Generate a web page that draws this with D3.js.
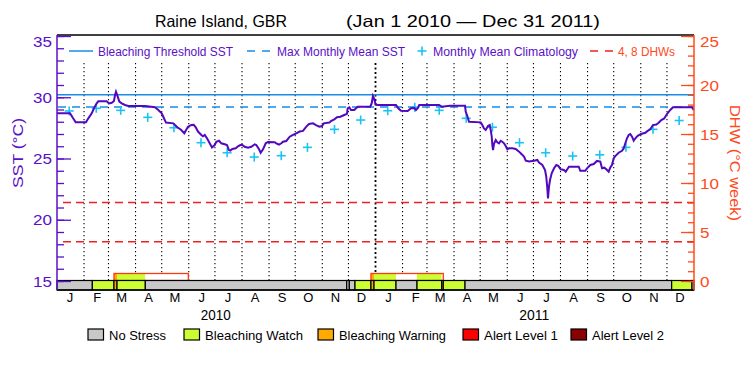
<!DOCTYPE html>
<html><head><meta charset="utf-8">
<script src="https://cdn.jsdelivr.net/npm/d3@7"></script>
<style>body{margin:0;background:#fff}svg{display:block}text{font-family:"Liberation Sans",Arial,sans-serif}</style>
</head><body>
<script>
// ---------- DATA ----------
// Daily SST, day offset from 2010-01-01
const sstDay = [0,14.9,18.3,21.4,33.2,35.9,39.8,42.4,45.5,47.3,
57,59.6,62.7,65.3,66.5,67.6,69.6,71.4,74.1,77.9,
81.7,100.8,112.3,116.1,120,121.8,124.9,133.3,135.8,137.9,
142.1,145.9,147.8,150.1,153.9,156.7,159,161.6,165.4,167.3,
169.3,171.9,175,177.6,180.7,182.6,185.7,188.3,192.2,194.8,
197.1,198.6,200.9,204.8,207.4,210.1,212.4,215.1,218.9,222.7,
226.6,228.4,231.5,233.4,236.1,239.2,241.8,249.5,251.3,254.4,
257.1,259,262.8,264.7,266.7,270.5,274.2,278.1,281.9,285.7,
288.8,293.4,296.8,300.6,303.7,305.7,312.1,314,317.8,320.9,
324.7,329.2,332.3,333.1,335,336.9,340.7,342.7,344.6,359,
360.6,362.1,363.6,364.8,366.7,388.5,391.1,394.2,401.9,405.7,
409.5,411.4,413.4,415.2,437.8,440.9,450.4,467.6,468.4,470.2,
472.2,485.6,487.4,489.3,491.3,493.9,495.9,497,498.2,498.9,
499.7,500.8,502.8,504.6,506.5,508.5,510.3,512.3,514.2,516.1,
518,521.8,525.7,529.5,531.4,535.2,537.2,541,546.7,550.5,
552.4,556.2,559.3,560.7,561.9,562.7,563.8,565,566.9,569.6,
572.2,574.5,577.2,581,583,584.8,586.7,597.9,599.7,605.4,
607.4,611.2,615.1,618.8,622.6,624.6,627.2,629.5,632.2,634.1,
636,637.9,639.8,643.6,647.5,649.4,651.3,653.2,655.2,657,
659,660.9,662.8,665.5,669.3,674.2,676.9,679.9,683,686.8,
689.5,692.5,695.9,699,702.8,705.9,727.7,729.6];
const sstValue = [28.7,28.7,28.3,27.96,27.96,28.28,28.69,29.1,29.5,29.67,
29.67,29.5,29.55,29.7,30.18,30.45,30.05,29.64,29.5,29.37,
29.29,29.29,29.18,28.96,28.69,28.41,27.93,27.87,27.7,27.55,
27.35,27.06,27.3,27.6,27.73,27.75,27.55,27.2,26.92,26.82,
26.92,26.65,26.24,25.9,26.1,26.37,26.45,26.24,26.16,26.1,
25.69,25.64,25.78,25.83,26.0,26.1,26.1,25.96,25.88,25.96,
26.16,26.1,25.75,25.47,25.75,26.24,26.35,26.33,26.24,26.13,
26.24,26.37,26.43,26.6,26.78,26.92,27.06,27.2,27.25,27.6,
27.82,27.87,27.73,27.6,27.65,27.87,27.93,28.06,28.2,28.37,
28.41,28.55,28.65,29.1,29.18,28.96,28.96,29.1,29.23,29.23,
29.5,30.1,29.85,29.5,29.37,29.37,29.1,28.9,28.88,29.1,
29.12,28.96,29.1,29.37,29.37,29.23,29.31,29.31,28.82,28.47,
28.0,27.95,27.73,27.45,27.33,27.65,27.73,27.33,26.78,26.1,
25.69,26.2,26.51,26.32,26.24,26.45,26.37,26.24,26.02,25.75,
25.83,25.83,25.78,25.56,25.43,25.15,24.82,24.75,24.82,24.88,
24.66,24.47,24.06,23.51,22.57,21.75,22.7,23.24,23.79,24.2,
24.47,24.4,24.12,24.06,23.92,24.12,24.33,24.33,24.0,24.0,
24.2,24.47,24.55,24.8,24.75,24.2,24.25,24.12,23.92,24.27,
24.47,25.01,25.2,25.47,25.63,25.82,26.24,26.65,26.92,27.0,
26.78,26.45,26.65,26.85,27.0,27.1,27.25,27.38,27.73,27.78,
27.92,28.14,28.27,28.63,28.96,29.18,29.18,28.96];

// Monthly mean climatology (+ markers), mid-month, Jan 2010 .. Dec 2011
const climValue = [28.88,29.1,28.93,28.36,27.51,26.29,25.47,25.12,25.23,25.91,27.38,28.14,
                   28.9,29.18,28.93,28.28,27.55,26.29,25.47,25.2,25.3,25.91,27.38,28.1];
const bleachingThreshold = 30.2;
const maxMonthlyMean = 29.2;
const dhwLevels = [4, 8];

// Stress level bar: segments (day offsets), level 0 none,1 watch,2 warning,3 alert1,4 alert2
const stressStart = [0,40.5,65.3,68.8,101.2,332,335,341.5,359.8,363.3,388.5,412.6,440.9,442.7,467.6,704.4,727.7];
const stressEnd   = [40.5,65.3,68.8,101.2,332,335,341.5,359.8,363.3,388.5,412.6,440.9,442.7,467.6,704.4,727.7,730];
const stressLevel = [0,1,2,1,0,0,0,1,2,1,0,1,2,1,0,1,0];

// Upper outlined boxes
const boxStart = [65.3, 359.8];
const boxEnd   = [150.5, 442.7];
const boxFillStart = [65.3,68.8,101.2, 359.8,363.3,388.5,412.6,440.9];
const boxFillEnd   = [68.8,101.2,150.5, 363.3,388.5,412.6,440.9,442.7];
const boxFillLevel = [2,1,-1, 2,1,-1,1,-1];

const monthLetters = ["J","F","M","A","M","J","J","A","S","O","N","D"];
const yearLabels = ["2010","2011"];
const sstTicks = [15,20,25,30,35];
const dhwTicks = [0,5,10,15,20,25];
const stressNames = ["No Stress","Bleaching Watch","Bleaching Warning","Alert Level 1","Alert Level 2"];
const stressColors = ["#c8c8c8","#ccff33","#ffaa00","#ff0000","#8b0000"];

// ---------- DRAW ----------
const W=750,H=375, X0=57, X1=694, YT=35, YB=290;
const purple="#5a10c8", lineP="#5208be", blue="#1a8ce6", cyan="#19c3f5", orange="#ff4a1a", red="#f02020";
const t0 = Date.UTC(2010,0,1);
const dayDate = d => new Date(t0 + d*864e5);
const x = d3.scaleUtc().domain([new Date(t0), new Date(Date.UTC(2012,0,1))]).range([X0,X1]);
const y = d3.scaleLinear().domain([15,35]).range([281,36]);
const yR = d3.scaleLinear().domain([0,25]).range([281,36]);

const svg = d3.select("body").append("svg").attr("width",W).attr("height",H);

// title
svg.append("text").attr("x",155).attr("y",27).attr("font-size",16.5).attr("textLength",132)
  .attr("lengthAdjust","spacingAndGlyphs").text("Raine Island, GBR");
svg.append("text").attr("x",346).attr("y",27).attr("font-size",16.5).attr("textLength",254)
  .attr("lengthAdjust","spacingAndGlyphs").text("(Jan 1 2010 \u2014 Dec 31 2011)");

// month grid (dotted)
const monthStarts = d3.utcMonth.range(new Date(Date.UTC(2010,1,1)), new Date(Date.UTC(2012,0,1)));
svg.append("g").selectAll("line").data(monthStarts).join("line")
  .attr("x1",d=>x(d)).attr("x2",d=>x(d)).attr("y1",63).attr("y2",280)
  .attr("stroke","#000")
  .attr("stroke-width",d=>d.getUTCMonth()===0?1.8:1.1)
  .attr("stroke-dasharray",d=>d.getUTCMonth()===0?"2,2.5":"1.3,2.7");

// threshold lines
svg.append("line").attr("x1",X0).attr("x2",X1).attr("y1",y(bleachingThreshold)).attr("y2",y(bleachingThreshold))
  .attr("stroke",blue).attr("stroke-width",1.5);
svg.append("line").attr("x1",X0).attr("x2",X1).attr("y1",y(maxMonthlyMean)).attr("y2",y(maxMonthlyMean))
  .attr("stroke",blue).attr("stroke-width",1.5).attr("stroke-dasharray","8,6").attr("stroke-dashoffset",-1);
svg.append("g").selectAll("line").data(dhwLevels).join("line")
  .attr("x1",X0+6).attr("x2",X1).attr("y1",d=>yR(d)).attr("y2",d=>yR(d))
  .attr("stroke",red).attr("stroke-width",1.5).attr("stroke-dasharray","8,5");

// climatology markers
const climDates = d3.range(24).map(i=>new Date(Date.UTC(2010+Math.floor(i/12), i%12, 15)));
const cg = svg.append("g").attr("stroke",cyan).attr("stroke-width",1.6);
climValue.forEach((v,i)=>{
  const cx=x(climDates[i]), cy=y(v);
  cg.append("line").attr("x1",cx-4.5).attr("x2",cx+4.5).attr("y1",cy).attr("y2",cy);
  cg.append("line").attr("x1",cx).attr("x2",cx).attr("y1",cy-4.5).attr("y2",cy+4.5);
});

// SST line
const sst = sstDay.map((d,i)=>({date:dayDate(d), v:sstValue[i]}));
svg.append("path").datum(sst).attr("fill","none").attr("stroke",lineP).attr("stroke-width",2)
  .attr("stroke-linejoin","miter")
  .attr("d", d3.line().x(d=>x(d.date)).y(d=>y(d.v)));

// upper outlined boxes
boxFillStart.forEach((s,i)=>{
  svg.append("rect").attr("x",x(dayDate(s))).attr("y",274)
    .attr("width",x(dayDate(boxFillEnd[i]))-x(dayDate(s))).attr("height",6)
    .attr("fill", boxFillLevel[i]<0 ? "#fff" : stressColors[boxFillLevel[i]]);
});
boxStart.forEach((s,i)=>{
  svg.append("rect").attr("x",x(dayDate(s))).attr("y",273.5)
    .attr("width",x(dayDate(boxEnd[i]))-x(dayDate(s))).attr("height",7)
    .attr("fill","none").attr("stroke","#ff3a10").attr("stroke-width",1.3);
});

// stress bar
stressStart.forEach((s,i)=>{
  svg.append("rect").attr("x",x(dayDate(s))).attr("y",280.5)
    .attr("width",x(dayDate(stressEnd[i]))-x(dayDate(s))).attr("height",9.5)
    .attr("fill",stressColors[stressLevel[i]]).attr("stroke","#000").attr("stroke-width",1.2);
});

// frame
svg.append("line").attr("x1",X0).attr("x2",X1).attr("y1",YT).attr("y2",YT).attr("stroke","#000").attr("stroke-width",1.3);
svg.append("line").attr("x1",X0).attr("x2",X1).attr("y1",YB).attr("y2",YB).attr("stroke","#000").attr("stroke-width",1.3);

// left axis
const yl = svg.append("g").attr("transform",`translate(${X0},0)`);
yl.call(d3.axisLeft(y).tickValues(d3.range(15,36,1)).tickSize(-7).tickFormat(""))
  .call(g=>g.select(".domain").remove());
yl.selectAll("line").attr("stroke",purple).attr("stroke-width",1.3);
const ylM = svg.append("g").attr("transform",`translate(${X0},0)`);
ylM.call(d3.axisLeft(y).tickValues(sstTicks).tickSize(-14).tickPadding(5))
  .call(g=>g.select(".domain").remove());
ylM.selectAll("line").attr("stroke",purple).attr("stroke-width",1.3);
ylM.selectAll("text").attr("fill",purple).attr("font-size",14.5).attr("font-family","Liberation Sans")
  .attr("textLength",19).attr("lengthAdjust","spacingAndGlyphs")
  .attr("dy",d=>d===35?"0.72em":"0.36em");
svg.append("line").attr("x1",X0).attr("x2",X0).attr("y1",YT).attr("y2",YB).attr("stroke",purple).attr("stroke-width",1.5);

// right axis
const yr = svg.append("g").attr("transform",`translate(${X1},0)`);
yr.call(d3.axisRight(yR).tickValues(d3.range(0,26,1)).tickSize(-6).tickFormat(""))
  .call(g=>g.select(".domain").remove());
yr.selectAll("line").attr("stroke",orange).attr("stroke-width",1.3);
const yrM = svg.append("g").attr("transform",`translate(${X1},0)`);
yrM.call(d3.axisRight(yR).tickValues(dhwTicks).tickSize(-13).tickPadding(6))
  .call(g=>g.select(".domain").remove());
yrM.selectAll("line").attr("stroke",orange).attr("stroke-width",1.3);
yrM.selectAll("text").attr("fill",orange).attr("font-size",14.5).attr("font-family","Liberation Sans")
  .attr("textLength",d=>d>=10?19:9.5).attr("lengthAdjust","spacingAndGlyphs")
  .attr("dy",d=>d===25?"0.72em":"0.36em");
svg.append("line").attr("x1",X1).attr("x2",X1).attr("y1",YT).attr("y2",YB).attr("stroke",orange).attr("stroke-width",1.5);

// axis titles
svg.append("text").attr("transform","translate(23,153) rotate(-90)").attr("text-anchor","middle")
  .attr("fill",purple).attr("font-size",15).attr("textLength",70).attr("lengthAdjust","spacingAndGlyphs").text("SST (\u00b0C)");
svg.append("text").attr("transform","translate(730,163) rotate(90)").attr("text-anchor","middle")
  .attr("fill",orange).attr("font-size",15).attr("textLength",116).attr("lengthAdjust","spacingAndGlyphs").text("DHW (\u00b0C week)");

// month labels
const monthMids = d3.range(24).map(i=>new Date(Date.UTC(2010+Math.floor(i/12), i%12, 16)));
svg.append("g").selectAll("text").data(monthMids).join("text")
  .attr("x",d=>x(d)).attr("y",302).attr("text-anchor","middle").attr("font-size",13)
  .text((d,i)=>monthLetters[i%12]);
svg.append("g").selectAll("text").data(yearLabels).join("text")
  .attr("x",(d,i)=>x(new Date(Date.UTC(2010+i,6,2)))).attr("y",320).attr("text-anchor","middle").attr("font-size",14)
  .attr("textLength",30).attr("lengthAdjust","spacingAndGlyphs")
  .text(d=>d);

// top legend
const lg = svg.append("g");
lg.append("line").attr("x1",69).attr("x2",93).attr("y1",51).attr("y2",51).attr("stroke",blue).attr("stroke-width",1.5);
lg.append("text").attr("x",98).attr("y",55.5).attr("font-size",12.5).attr("fill",purple).attr("textLength",135).attr("lengthAdjust","spacingAndGlyphs").text("Bleaching Threshold SST");
lg.append("line").attr("x1",247).attr("x2",271).attr("y1",51).attr("y2",51).attr("stroke",blue).attr("stroke-width",1.5).attr("stroke-dasharray","8,7");
lg.append("text").attr("x",277).attr("y",55.5).attr("font-size",12.5).attr("fill",purple).attr("textLength",128).attr("lengthAdjust","spacingAndGlyphs").text("Max Monthly Mean SST");
lg.append("line").attr("x1",417.5).attr("x2",426.5).attr("y1",51).attr("y2",51).attr("stroke",cyan).attr("stroke-width",1.6);
lg.append("line").attr("x1",422).attr("x2",422).attr("y1",46.5).attr("y2",55.5).attr("stroke",cyan).attr("stroke-width",1.6);
lg.append("text").attr("x",433).attr("y",55.5).attr("font-size",12.5).attr("fill",purple).attr("textLength",145).attr("lengthAdjust","spacingAndGlyphs").text("Monthly Mean Climatology");
lg.append("line").attr("x1",590).attr("x2",613).attr("y1",51).attr("y2",51).attr("stroke",red).attr("stroke-width",1.5).attr("stroke-dasharray","8,7");
lg.append("text").attr("x",618).attr("y",55.5).attr("font-size",12.5).attr("fill",orange).attr("textLength",57).attr("lengthAdjust","spacingAndGlyphs").text("4, 8 DHWs");

// bottom legend
const bx = [88,184,318,463,571];
const tw = [57,98,107,74,72];
const bl = svg.append("g");
stressNames.forEach((n,i)=>{
  bl.append("rect").attr("x",bx[i]).attr("y",329).attr("width",15.5).attr("height",11)
    .attr("fill",stressColors[i]).attr("stroke","#000").attr("stroke-width",1.2);
  bl.append("text").attr("x",bx[i]+21).attr("y",340).attr("font-size",13).attr("textLength",tw[i])
    .attr("lengthAdjust","spacingAndGlyphs").text(n);
});
</script>
</body></html>
